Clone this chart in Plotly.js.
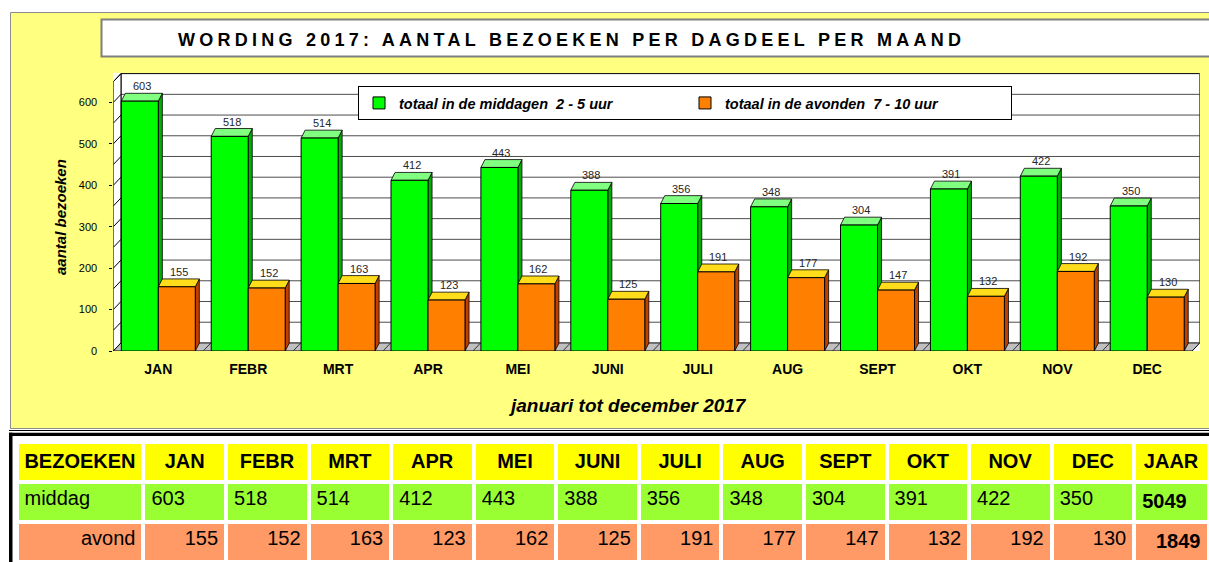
<!DOCTYPE html>
<html><head><meta charset="utf-8">
<script src="https://cdn.plot.ly/plotly-3.0.1.min.js"></script>
<style>
html,body{margin:0;padding:0;background:#fff;overflow:hidden;}
#chart{width:1209px;height:562px;}
.gtitle{letter-spacing:4.25px;}
</style></head><body><div id="chart"></div>
<script>
// ---------- data ----------
const months = ['JAN','FEBR','MRT','APR','MEI','JUNI','JULI','AUG','SEPT','OKT','NOV','DEC'];
const middag = [603,518,514,412,443,388,356,348,304,391,422,350];
const avond  = [155,152,163,123,162,125,191,177,147,132,192,130];
const yTickVals = [0,100,200,300,400,500,600];
const seriesNames = ['totaal in de middagen  2 - 5 uur','totaal in de avonden  7 - 10 uur'];
const rowLabels = ['middag','avond'];
const tableCorner = 'BEZOEKEN';
const totalLabel = 'JAAR';
const chartTitle = 'WORDING 2017: AANTAL BEZOEKEN PER DAGDEEL PER MAAND';
const xTitle = 'januari tot december 2017';
const yTitle = 'aantal bezoeken';

// ---------- geometry / style ----------
const W = 1209, H = 562;
const px = x => x / W, py = y => 1 - y / H;
const FONT = 'Liberation Sans';
const bargap = 0.177;
const bw = (1 - bargap) / 2;
const dxw = 0.085, dyw = 19.5;   // wall depth (data units)
const dxb = 0.045, dyb = 19;     // bar depth (data units)
const wallTop = 650, yMax = 671;
const xMin = -0.5, xLast = months.length - 0.5, xMax = xLast + dxw;
const unitPx = 89.9, xLeftPx = 113.35;
const xDomEnd = xLeftPx + unitPx * (xMax - xMin);

const col = {
  g: '#00FF00', gTop: '#80FF80', gSide: '#00B000',
  o: '#FF8000', oTop: '#FFDD1A', oSide: '#C04000'
};

const P = pts => 'M' + pts.map(p => p[0] + ',' + p[1]).join(' L') + ' Z';
const shapes = [];
// paper-level backgrounds
shapes.push({type:'rect', xref:'paper', yref:'paper', x0:px(10.5), x1:px(1215), y0:py(428.5), y1:py(12.5),
  fillcolor:'#FFFF80', line:{color:'#8c8c8c', width:1}, layer:'below'});
shapes.push({type:'rect', xref:'paper', yref:'paper', x0:px(101.5), x1:px(1215), y0:py(56.5), y1:py(19.5),
  fillcolor:'#FFFFFF', line:{color:'#7f7f7f', width:2}, layer:'below'});
shapes.push({type:'rect', xref:'paper', yref:'paper', x0:px(113), x1:px(1200), y0:py(351), y1:py(73),
  fillcolor:'#FFFFFF', line:{width:0}, layer:'below'});
// table frame
shapes.push({type:'line', xref:'paper', yref:'paper', x0:px(9), x1:px(1215), y0:py(430.5), y1:py(430.5),
  line:{color:'#000', width:1}, layer:'below'});
shapes.push({type:'rect', xref:'paper', yref:'paper', x0:px(9), x1:px(1215), y0:py(436), y1:py(432.7),
  fillcolor:'#000', line:{width:0}, layer:'below'});
shapes.push({type:'rect', xref:'paper', yref:'paper', x0:px(9), x1:px(12.5), y0:py(570), y1:py(432.7),
  fillcolor:'#000', line:{width:0}, layer:'below'});

// data-level 3D frame
const dshape = (o) => Object.assign({xref:'x', yref:'y', layer:'below'}, o);
for (let v = 50; v < wallTop; v += 50) {
  shapes.push(dshape({type:'line', x0:xMin + dxw, x1:xLast + dxw, y0:v + dyw, y1:v + dyw, line:{color:'#4d4d4d', width:1}}));
}
shapes.push(dshape({type:'path', path:'M' + (xMin+dxw) + ',' + dyw + ' L' + (xMin+dxw) + ',' + (wallTop+dyw) +
  ' L' + (xLast+dxw) + ',' + (wallTop+dyw) + ' L' + (xLast+dxw) + ',' + dyw, line:{color:'#000', width:1}}));
shapes.push(dshape({type:'path', path:P([[xMin,0],[xMin,wallTop],[xMin+dxw,wallTop+dyw],[xMin+dxw,dyw]]),
  fillcolor:'#FFFFFF', line:{color:'#000', width:1}}));
for (let v = 0; v <= wallTop; v += 50) {
  shapes.push(dshape({type:'line', x0:xMin, x1:xMin + dxw, y0:v, y1:v + dyw, line:{color:'#000', width:1}}));
}
shapes.push(dshape({type:'path', path:P([[xMin,0],[xLast,0],[xLast+dxw,dyw],[xMin+dxw,dyw]]),
  fillcolor:'#C0C0C0', line:{color:'#000', width:1}}));
for (let k = 0; k < months.length - 1; k++) {
  shapes.push(dshape({type:'line', x0:k + 0.5, x1:k + 0.5 + dxw, y0:0, y1:dyw, line:{color:'#333', width:1}}));
}
// bar side & top faces
function faces(x0, x1, v, top, side) {
  shapes.push(dshape({type:'path', path:P([[x1,0],[x1,v],[x1+dxb,v+dyb],[x1+dxb,dyb]]), fillcolor:side, line:{color:'#000', width:0.8}}));
  shapes.push(dshape({type:'path', path:P([[x0,v],[x1,v],[x1+dxb,v+dyb],[x0+dxb,v+dyb]]), fillcolor:top, line:{color:'#000', width:0.8}}));
}
months.forEach((m, i) => {
  faces(i - bw, i, middag[i], col.gTop, col.gSide);
  faces(i, i + bw, avond[i], col.oTop, col.oSide);
});

// annotations
const annotations = [];
months.forEach((m, i) => {
  annotations.push({xref:'x', yref:'y', x:i - bw/2 + dxb/2, y:middag[i] + dyb, text:String(middag[i]), showarrow:false,
    yanchor:'bottom', yshift:-1, font:{family:FONT, size:11, color:'#262626'}});
  annotations.push({xref:'x', yref:'y', x:i + bw/2 + dxb/2, y:avond[i] + dyb, text:String(avond[i]), showarrow:false,
    yanchor:'bottom', yshift:-1, font:{family:FONT, size:11, color:'#262626'}});
});
annotations.push({xref:'paper', yref:'paper', x:px(627), y:py(405), text:xTitle, showarrow:false,
  xanchor:'center', yanchor:'middle', font:{family:FONT, size:19, style:'italic', weight:'bold', color:'#000'}});
annotations.push({xref:'paper', yref:'paper', x:px(61), y:py(217), text:yTitle, showarrow:false, textangle:-90,
  xanchor:'center', yanchor:'middle', font:{family:FONT, size:15, style:'italic', weight:'bold', color:'#000'}});

// table
const sumM = middag.reduce((a, b) => a + b, 0);
const sumA = avond.reduce((a, b) => a + b, 0);
const headerVals = [tableCorner].concat(months, [totalLabel]).map(s => ['<b>' + s + '</b>']);
const cellCols = [rowLabels]
  .concat(months.map((m, i) => [String(middag[i]), String(avond[i])]))
  .concat([['<b>' + sumM + '</b>', '<b>' + sumA + '</b>']]);
const cellFills = cellCols.map(() => ['#99FF33', '#FF9966']);
const cellAligns = cellCols.map(() => ['left', 'right']);
const colWidths = [127].concat(months.map(() => 82.6), [74.3]);

const traces = [
  {type:'bar', name:seriesNames[0], x:months.map((m, i) => i), y:middag,
   marker:{color:col.g, line:{color:'#000', width:1}}, cliponaxis:false, hoverinfo:'skip'},
  {type:'bar', name:seriesNames[1], x:months.map((m, i) => i), y:avond,
   marker:{color:col.o, line:{color:'#000', width:1}}, cliponaxis:false, hoverinfo:'skip'},
  {type:'table', domain:{x:[px(16.5), 1], y:[0, py(442)]}, columnwidth:colWidths,
   header:{values:headerVals, fill:{color:'#FFFF00'}, line:{color:'#FFFFFF', width:4}, align:'center', height:40,
     font:{family:FONT, size:20, color:'#000'}},
   cells:{values:cellCols, fill:{color:cellFills}, line:{color:'#FFFFFF', width:4}, align:cellAligns, height:40,
     font:{family:FONT, size:20, color:'#000'}}}
];

const layout = {
  width:W, height:H, margin:{l:0, r:0, t:0, b:0, pad:0},
  paper_bgcolor:'#FFFFFF', plot_bgcolor:'rgba(0,0,0,0)',
  barmode:'group', bargap:bargap, bargroupgap:0, hovermode:false,
  title:{text:chartTitle, font:{family:FONT, size:18, weight:'bold', color:'#000'},
    xref:'paper', yref:'paper', x:px(178), xanchor:'left', y:py(40), yanchor:'middle'},
  xaxis:{domain:[px(xLeftPx), px(xDomEnd)], range:[xMin, xMax], tickvals:months.map((m, i) => i), ticktext:months,
    ticks:'', showgrid:false, zeroline:false, showline:false, ticklabelstandoff:8,
    tickfont:{family:FONT, size:14, weight:'bold', color:'#000'}, fixedrange:true},
  yaxis:{domain:[py(351), py(73)], range:[0, yMax], tickvals:yTickVals, ticks:'outside', ticklen:3, tickcolor:'#000',
    showgrid:false, zeroline:false, showline:false, ticklabelstandoff:10,
    tickfont:{family:FONT, size:11, color:'#000'}, fixedrange:true},
  showlegend:true,
  legend:{x:px(358), y:py(86), xanchor:'left', yanchor:'top', orientation:'h', bgcolor:'#FFFFFF',
    bordercolor:'#000', borderwidth:1, entrywidth:281, entrywidthmode:'pixels', traceorder:'normal',
    font:{family:FONT, size:14.5, style:'italic', weight:'bold', color:'#000'}},
  shapes:shapes, annotations:annotations
};

Plotly.newPlot('chart', traces, layout, {displayModeBar:false, staticPlot:true});
</script></body></html>
